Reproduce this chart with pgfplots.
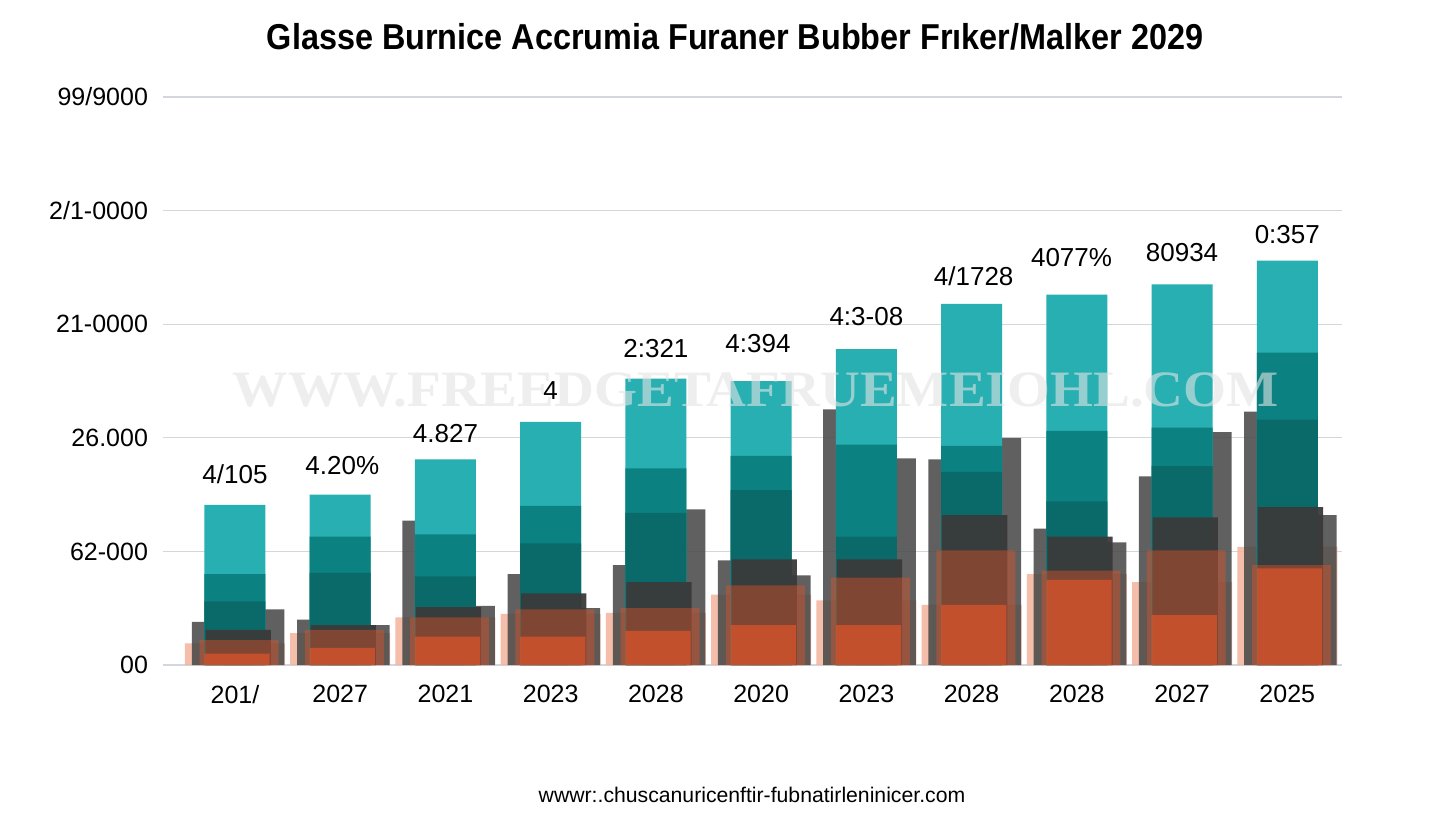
\documentclass[border=0pt]{standalone}
\usepackage{pgfplots}
\pgfplotsset{compat=1.18}
\usepackage{fontspec}
\setmainfont{Liberation Sans}
\newfontfamily\wmfont{Liberation Serif}

\definecolor{tealL}{HTML}{27AFB1}
\definecolor{tealM}{HTML}{0B8281}
\definecolor{tealD}{HTML}{0A6A6A}
\definecolor{grayB}{HTML}{4A4A4A}
\definecolor{grayF}{HTML}{3A3A3A}
\definecolor{salm}{HTML}{F4B39C}
\definecolor{orgB}{HTML}{D8532A}
\definecolor{orgR}{HTML}{E0552B}
\definecolor{gridc}{HTML}{D3D6DA}

\begin{document}
\begin{tikzpicture}
\path[use as bounding box, fill=white] (-81.5pt,-75.5pt) rectangle (646.5pt,332.5pt);
\begin{axis}[
    at={(0,0)}, anchor=south west,
    scale only axis,
    width=589.5pt, height=284pt,
    xmin=-0.684, xmax=10.52,
    ymin=0, ymax=5,
    axis line style={draw=none},
    major tick length=0pt,
    ytick={0,1,2,3,4,5},
    yticklabels={00,62-000,26.000,21-0000,2/1-0000,99/9000},
    xtick={0,1,2,3,4,5,6,7,8,9,10},
    xticklabels={201/,2027,2021,2023,2028,2020,2023,2028,2028,2027,2025},
    ymajorgrids,
    grid style={draw=gridc, line width=0.6pt},
    tick label style={font=\fontsize{12.5}{15}\selectfont},
    yticklabel style={xshift=-4pt},
    xticklabel style={yshift=-6.5pt},
    clip=false,
]
% pale salmon, widest, at the back
\addplot[ybar, bar width=0.95, bar shift=0, draw=none, fill=salm, fill opacity=0.85] coordinates {
    (0,0.19) (1,0.28) (2,0.42) (3,0.45) (4,0.46) (5,0.62)
    (6,0.57) (7,0.53) (8,0.80) (9,0.73) (10,1.04)
};
% back gray, left
\addplot[ybar, bar width=0.58, bar shift=-0.12, draw=none, fill=grayB, fill opacity=0.88] coordinates {
    (0,0.38) (1,0.40) (2,1.27) (3,0.80) (4,0.88) (5,0.92)
    (6,2.25) (7,1.81) (8,1.20) (9,1.66) (10,2.23)
};
% back gray, right
\addplot[ybar, bar width=0.58, bar shift=0.18, draw=none, fill=grayB, fill opacity=0.88] coordinates {
    (0,0.49) (1,0.35) (2,0.52) (3,0.50) (4,1.37) (5,0.79)
    (6,1.82) (7,2.00) (8,1.08) (9,2.05) (10,1.32)
};
% teal layers
\addplot[ybar, bar width=0.58, bar shift=0, draw=none, fill=tealL] coordinates {
    (0,1.41) (1,1.50) (2,1.81) (3,2.14) (4,2.52) (5,2.50)
    (6,2.78) (7,3.18) (8,3.26) (9,3.35) (10,3.56)
};
\addplot[ybar, bar width=0.58, bar shift=0, draw=none, fill=tealM] coordinates {
    (0,0.80) (1,1.13) (2,1.15) (3,1.40) (4,1.73) (5,1.84)
    (6,1.94) (7,1.93) (8,2.06) (9,2.09) (10,2.75)
};
\addplot[ybar, bar width=0.58, bar shift=0, draw=none, fill=tealD] coordinates {
    (0,0.56) (1,0.81) (2,0.78) (3,1.07) (4,1.34) (5,1.54)
    (6,1.13) (7,1.70) (8,1.44) (9,1.75) (10,2.16)
};
% front dark band
\addplot[ybar, bar width=0.62, bar shift=0.03, draw=none, fill=grayF, fill opacity=0.95] coordinates {
    (0,0.31) (1,0.35) (2,0.51) (3,0.63) (4,0.73) (5,0.93)
    (6,0.93) (7,1.32) (8,1.13) (9,1.30) (10,1.39)
};
% orange overlays
\addplot[ybar, bar width=0.75, bar shift=0.04, draw=none, fill=orgB, fill opacity=0.45] coordinates {
    (0,0.22) (1,0.31) (2,0.42) (3,0.49) (4,0.50) (5,0.70)
    (6,0.77) (7,1.01) (8,0.83) (9,1.01) (10,0.88)
};
\addplot[ybar, bar width=0.62, bar shift=0.02, draw=none, fill=orgR, fill opacity=0.7] coordinates {
    (0,0.10) (1,0.15) (2,0.25) (3,0.25) (4,0.30) (5,0.35)
    (6,0.35) (7,0.53) (8,0.75) (9,0.44) (10,0.85)
};
% watermark behind the value labels
\node[inner sep=0pt, font=\wmfont\bfseries\fontsize{30}{30}\selectfont, text=white!78!gray, opacity=0.6]
    at (axis cs:4.95,2.42) {\scalebox{0.92}[0.85]{WWW.FREEDGETAFRUEMEIOHL.COM}};
% value labels
\addplot[draw=none, mark=none, nodes near coords, point meta=explicit symbolic,
    every node near coord/.append style={anchor=center, font=\fontsize{13}{15}\selectfont}]
    coordinates {
    (0,1.68) [4/105]
    (1.02,1.76) [4.20\%]
    (2,2.04) [4.827]
    (3,2.42) [4]
    (4,2.79) [2:321]
    (4.97,2.83) [4:394]
    (6,3.07) [4:3-08]
    (7.02,3.42) [4/1728]
    (7.95,3.59) [4077\%]
    (9,3.63) [80934]
    (10,3.79) [0:357]
};
\end{axis}
\node[font=\bfseries\fontsize{18}{20}\selectfont] at (286pt,314pt)
    {\scalebox{0.9}[1]{Glasse Burnice Accrumia Furaner Bubber Frıker/Malker 2029}};
\node[font=\fontsize{10.6}{12}\selectfont] at (294.5pt,-65pt)
    {wwwr:.chuscanuricenftir-fubnatirleninicer.com};
\end{tikzpicture}
\end{document}
